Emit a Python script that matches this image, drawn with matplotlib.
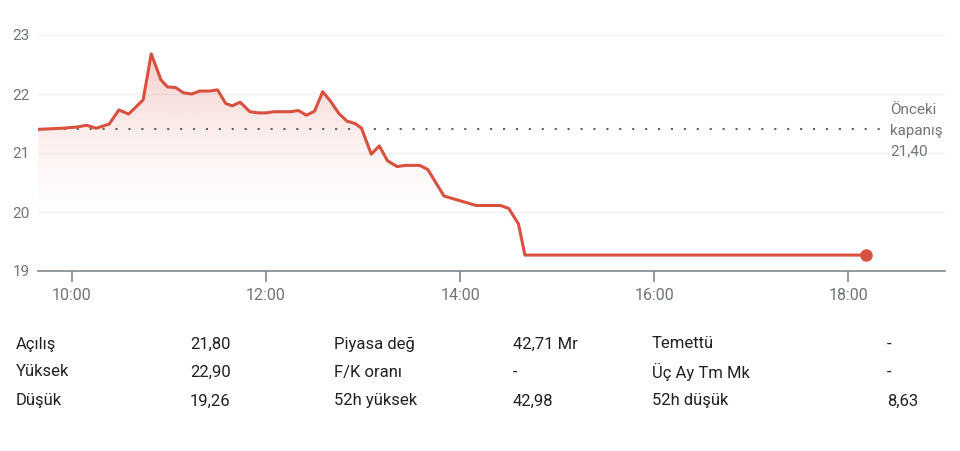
import numpy as np
import matplotlib.pyplot as plt
from matplotlib.colors import to_rgb

plt.rcParams['font.family'] = ['Roboto', 'DejaVu Sans']

### data
times = ["09:39", "09:54", "10:03", "10:09", "10:15", "10:23", "10:29", "10:35",
         "10:44", "10:49", "10:55", "10:59", "11:04", "11:09", "11:14", "11:19",
         "11:25", "11:30", "11:35", "11:39", "11:44", "11:50", "11:55", "12:00",
         "12:05", "12:15", "12:20", "12:25", "12:30", "12:35", "12:40", "12:45",
         "12:50", "12:55", "12:59", "13:05", "13:10", "13:15", "13:21", "13:26",
         "13:35", "13:40", "13:50", "14:10", "14:25", "14:30", "14:36", "14:40",
         "18:11"]
prices = [21.40, 21.42, 21.44, 21.47, 21.42, 21.49, 21.73, 21.66,
          21.90, 22.68, 22.24, 22.12, 22.11, 22.02, 22.00, 22.05,
          22.05, 22.07, 21.84, 21.80, 21.86, 21.70, 21.68, 21.68,
          21.70, 21.70, 21.72, 21.64, 21.71, 22.04, 21.87, 21.67,
          21.54, 21.50, 21.42, 20.98, 21.12, 20.87, 20.77, 20.79,
          20.79, 20.72, 20.27, 20.11, 20.11, 20.06, 19.80, 19.27,
          19.27]
prev_close = 21.40
prev_label = "Önceki\nkapanış\n21,40"

y_ticks = [19, 20, 21, 22, 23]
x_ticks = ["10:00", "12:00", "14:00", "16:00", "18:00"]

stat_labels_1 = ["Açılış", "Yüksek", "Düşük"]
stat_values_1 = ["21,80", "22,90", "19,26"]
stat_labels_2 = ["Piyasa değ", "F/K oranı", "52h yüksek"]
stat_values_2 = ["42,71 Mr", "-", "42,98"]
stat_labels_3 = ["Temettü", "Üç Ay Tm Mk", "52h düşük"]
stat_values_3 = ["-", "-", "8,63"]


def to_hours(s):
    h, m = s.split(":")
    return int(h) + int(m) / 60.0


x = np.array([to_hours(t) for t in times])
y = np.array(prices)
xt = [to_hours(t) for t in x_ticks]

red = "#d9503f"
gray = "#70757a"

fig = plt.figure(figsize=(9.6, 4.51), dpi=100)
ax = fig.add_axes([38 / 960, 180 / 451, 907 / 960, 236 / 451])

xmin, xmax = x[0], 10 + (945 - 72.5) / 97
ax.set_xlim(xmin, xmax)
ax.set_ylim(19, 23)

# gradient fill under the line
poly = ax.fill_between(x, y, 19, color="none", lw=0)
grad = np.linspace(0, 1, 256)[:, None]
alpha = np.clip((grad - 0.15) / 0.85, 0, 1) ** 1.8 * 0.33
rgba = np.zeros((256, 1, 4))
rgba[..., :3] = to_rgb(red)
rgba[..., 3] = alpha
img = ax.imshow(rgba, extent=[xmin, xmax, 19, 23], origin="lower",
                aspect="auto", zorder=1)
img.set_clip_path(poly.get_paths()[0], transform=ax.transData)

ax.plot(x, y, color=red, lw=2.2, zorder=3, solid_joinstyle="round")
ax.plot(x[-1], y[-1], "o", color=red, ms=8, zorder=4, clip_on=False)

# previous close
ax.plot([xmin, 10 + (885 - 72.5) / 97], [prev_close, prev_close],
        color="#5f6368", lw=1.5, linestyle=(0, (1, 5.2)), zorder=2)
ax.text(10 + (890 - 72.5) / 97, prev_close - 0.02, prev_label, ha="left",
        va="center", fontsize=11, color=gray, linespacing=1.6, zorder=5)

# grid and axes
for v in y_ticks[1:]:
    ax.axhline(v, color="#f1f1f1", lw=1, zorder=0)
for s in ["top", "right", "left"]:
    ax.spines[s].set_visible(False)
ax.spines["bottom"].set_color("#80868b")
ax.spines["bottom"].set_linewidth(1.2)

ax.set_yticks(y_ticks)
ax.set_yticklabels([str(v) for v in y_ticks])
ax.tick_params(axis="y", length=0, pad=6, labelsize=11, labelcolor=gray)
ax.set_xticks(xt)
ax.set_xticklabels(x_ticks)
ax.tick_params(axis="x", length=8, width=1.2, color="#80868b", pad=4,
               labelsize=11.5, labelcolor=gray, direction="out")

# stats table
rows_y = [344, 372, 401]
cols = [(16, stat_labels_1), (190, stat_values_1), (334, stat_labels_2),
        (513, stat_values_2), (652, stat_labels_3), (887, stat_values_3)]
for cx, texts in cols:
    for ry, t in zip(rows_y, texts):
        fig.text(cx / 960, 1 - ry / 451, t, ha="left", va="center",
                 fontsize=12, color="#202124")

fig.savefig("out.png", dpi=100)
